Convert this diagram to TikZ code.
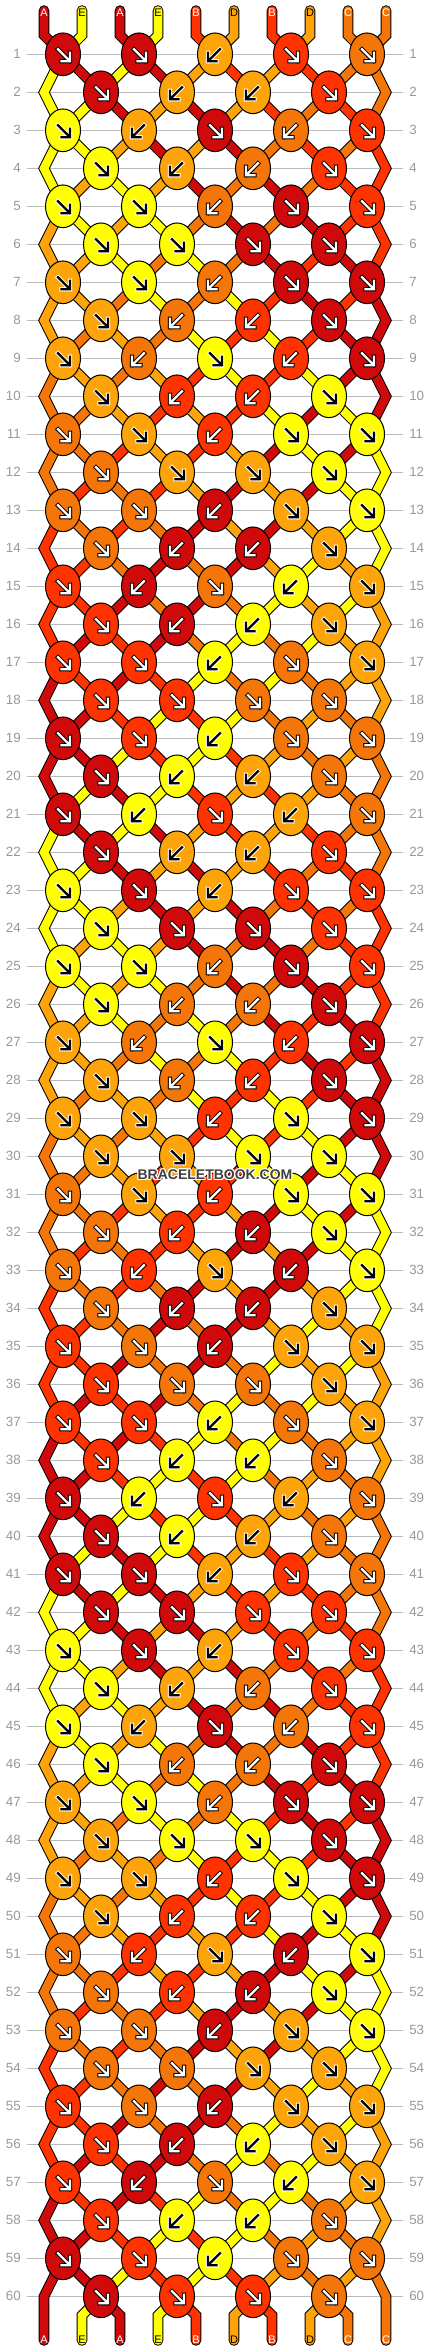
\documentclass[tikz,border=0pt]{standalone}
\usepackage{fontspec}
\setmainfont{Liberation Sans}
\usetikzlibrary{shapes.geometric}
\definecolor{cA}{HTML}{D00A0A}
\definecolor{cE}{HTML}{FFFF00}
\definecolor{cB}{HTML}{FF3300}
\definecolor{cD}{HTML}{FCA40A}
\definecolor{cC}{HTML}{F47508}
\definecolor{rowgray}{HTML}{999999}
\definecolor{gridgray}{HTML}{BBBBBB}
\definecolor{wmgray}{HTML}{404040}
\colorlet{col1}{cA}\colorlet{col2}{cE}\colorlet{col3}{cA}\colorlet{col4}{cE}
\colorlet{col5}{cB}\colorlet{col6}{cD}\colorlet{col7}{cB}\colorlet{col8}{cD}
\colorlet{col9}{cC}\colorlet{col10}{cC}
% arrow / label colour (arr) and arrow outline colour (aro)
\colorlet{arr1}{white}\colorlet{aro1}{black}
\colorlet{arr2}{black}\colorlet{aro2}{white}
\colorlet{arr3}{white}\colorlet{aro3}{black}
\colorlet{arr4}{black}\colorlet{aro4}{white}
\colorlet{arr5}{white}\colorlet{aro5}{black}
\colorlet{arr6}{black}\colorlet{aro6}{white}
\colorlet{arr7}{white}\colorlet{aro7}{black}
\colorlet{arr8}{black}\colorlet{aro8}{white}
\colorlet{arr9}{white}\colorlet{aro9}{black}
\colorlet{arr10}{white}\colorlet{aro10}{black}
% knot directions, 6-row repeat, 5 slots per row (1 = forward, 0 = backward)
\def\dirtab{{1,1,0,1,1, 1,0,0,1,0, 1,0,1,0,1, 1,0,0,1,0, 1,1,0,1,1, 1,1,1,1,0}}
\begin{document}
\begin{tikzpicture}[x=0.75pt,y=-0.75pt,
  gridline/.style={draw=gridgray,line width=0.8pt},
  rownum/.style={text=rowgray,font=\fontsize{10}{10}\selectfont,inner sep=0pt},
  strandout/.style={draw=black,line width=7.9pt,line cap=round,line join=miter},
  strandin/.style={line width=6.4pt,line cap=round,line join=miter},
  knot/.style={ellipse,draw=black,line width=0.75pt,minimum width=26.25pt,minimum height=32pt,inner sep=0pt},
  arrowout/.style={line width=3.2pt,line cap=rect,line join=miter},
  arrowin/.style={line width=1.7pt,line cap=rect,line join=miter},
  strlabel/.style={font=\fontsize{8.25}{8.25}\selectfont,inner sep=0pt},
  wm/.style={font=\bfseries\fontsize{10.5}{10.5}\selectfont,inner sep=0pt},
]
\useasboundingbox (0,0) rectangle (430,2352);
\fill[white] (0,0) rectangle (430,2352);
% row lines and numbers
\foreach \r in {1,...,60}{
  \pgfmathsetmacro\yy{54.3+38*(\r-1)}
  \draw[gridline] (26.7,\yy) -- (403,\yy);
  \node[rownum,anchor=east] (ln\r) at (21,\yy) {\r};
  \node[rownum,anchor=west] (rn\r) at (409,\yy) {\r};
}
% string coordinates
\foreach \s in {1,...,10}{
  \pgfmathtruncatemacro\ph{(mod(\s,2)==1) ? (\s-1) : (20-\s)}
  \pgfmathsetmacro\xs{44+38*(\s-1)}
  \coordinate (s\s-t0) at (\xs,10.5);
  \coordinate (s\s-t1) at (\xs,35.3);
  \coordinate (s\s-b1) at (\xs,2315.3);
  \coordinate (s\s-b0) at (\xs,2340.5);
  \foreach \r in {1,...,60}{
    \pgfmathtruncatemacro\tb{mod(\ph+\r-1,20)}
    \pgfmathtruncatemacro\ta{mod(\ph+\r,20)}
    \pgfmathtruncatemacro\pb{(\tb<10) ? (\tb+1) : (20-\tb)}
    \pgfmathtruncatemacro\pa{(\ta<10) ? (\ta+1) : (20-\ta)}
    \pgfmathsetmacro\yy{54.3+38*(\r-1)}
    \ifnum\pb=\pa
      \pgfmathsetmacro\xx{44+38*(\pb-1)}
    \else
      \pgfmathtruncatemacro\q{min(\pb,\pa)}
      \pgfmathsetmacro\xx{63+38*(\q-1)}
    \fi
    \coordinate (s\s-\r) at (\xx,\yy);
  }
}
% strands
\foreach \s in {1,...,10}{
  \draw[strandout] (s\s-t0) -- (s\s-t1) \foreach \r in {1,...,60}{ -- (s\s-\r)} -- (s\s-b1) -- (s\s-b0);
  \draw[strandin,draw=col\s] (s\s-t0) -- (s\s-t1) \foreach \r in {1,...,60}{ -- (s\s-\r)} -- (s\s-b1) -- (s\s-b0);
}
% knots
\foreach \s in {1,...,10}{
  \pgfmathtruncatemacro\ph{(mod(\s,2)==1) ? (\s-1) : (20-\s)}
  \foreach \r in {1,...,60}{
    \pgfmathtruncatemacro\tb{mod(\ph+\r-1,20)}
    \pgfmathtruncatemacro\ta{mod(\ph+\r,20)}
    \pgfmathtruncatemacro\pb{(\tb<10) ? (\tb+1) : (20-\tb)}
    \pgfmathtruncatemacro\pa{(\ta<10) ? (\ta+1) : (20-\ta)}
    \ifnum\pb=\pa\else
      \pgfmathtruncatemacro\q{min(\pb,\pa)}
      \pgfmathtruncatemacro\m{mod(\r-1,6)}
      \pgfmathtruncatemacro\j{int((\q-1)/2)}
      \pgfmathtruncatemacro\dir{\dirtab[5*\m+\j]}
      \def\own{0}
      \ifnum\pa>\pb \ifnum\dir=1 \def\own{1}\def\sg{1}\fi
      \else \ifnum\dir=0 \def\own{1}\def\sg{-1}\fi
      \fi
      \ifnum\own=1
        \node[knot,fill=col\s] (k-\r-\q) at (s\s-\r) {};
        \begin{scope}[shift={(s\s-\r)},xscale=\sg]
          \draw[arrowout,draw=aro\s] (-5,-5) -- (6.5,6.5) (-1.5,7) -- (7,7) -- (7,-1.5);
          \draw[arrowin,draw=arr\s] (-5,-5) -- (6.5,6.5) (-1.5,7) -- (7,7) -- (7,-1.5);
        \end{scope}
      \fi
    \fi
  }
}
% string letters
\foreach \s/\L in {1/A,2/E,3/A,4/E,5/B,6/D,7/B,8/D,9/C,10/C}{
  \pgfmathsetmacro\xs{44+38*(\s-1)}
  \node[strlabel,text=arr\s] (top\s) at (\xs,12.8) {\L};
  \node[strlabel,text=arr\s] (bot\s) at (\xs,2339.5) {\L};
}
% watermark
\foreach \dx/\dy [count=\i] in {-1/0,1/0,0/-1,0/1,-1/-1,1/1,-1/1,1/-1}{
  \node[wm,text=white] (wmh\i) at (215+\dx,1175+\dy) {BRACELETBOOK.COM};
}
\node[wm,text=wmgray] (wm) at (215,1175) {BRACELETBOOK.COM};
\end{tikzpicture}
\end{document}
